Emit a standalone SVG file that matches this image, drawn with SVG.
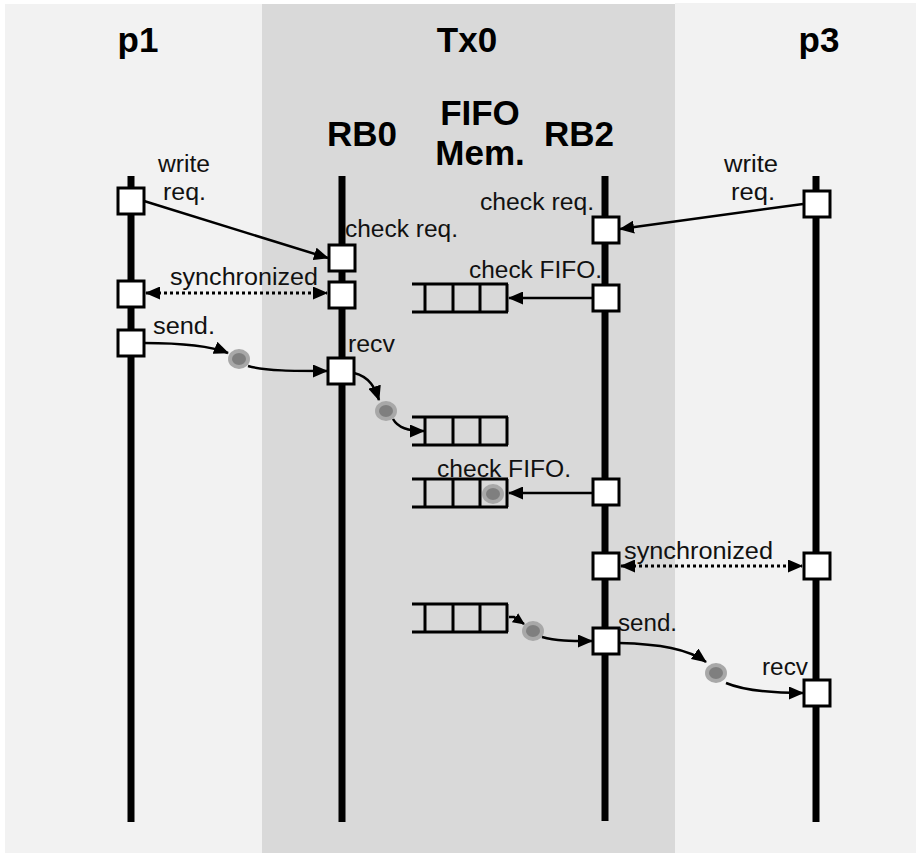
<svg xmlns="http://www.w3.org/2000/svg" width="916" height="853" viewBox="0 0 916 853">
<style>
.title{font-family:"Liberation Sans",Arial,sans-serif;font-weight:bold;font-size:35px;fill:#000;text-anchor:middle}
.lbl{font-family:"Liberation Sans",Arial,sans-serif;font-size:23px;fill:#111}
.life{stroke:#000;stroke-width:7}
.box{fill:#fff;stroke:#000;stroke-width:3}
.conn{fill:none;stroke:#000;stroke-width:2.5}
.dot{fill:none;stroke:#000;stroke-width:3;stroke-dasharray:3 3}
.fifo{fill:none;stroke:#000;stroke-width:3}
.tokO{fill:#a8a8a8}
.tokI{fill:#7f7f7f}
</style>
<defs>
<marker id="ah" markerUnits="userSpaceOnUse" markerWidth="15" markerHeight="13" refX="14" refY="6.5" orient="auto-start-reverse">
<path d="M0,0 L15,6.5 L0,13 z" fill="#000"/>
</marker>
<marker id="ahs" markerUnits="userSpaceOnUse" markerWidth="12" markerHeight="11" refX="11" refY="5.5" orient="auto">
<path d="M0,0 L12,5.5 L0,11 z" fill="#000"/>
</marker>
<g id="token"><ellipse class="tokO" cx="0" cy="0" rx="11" ry="10"/><ellipse class="tokI" cx="0" cy="0" rx="7" ry="6"/></g>
<g id="fifoShape">
<path class="fifo" d="M0,0 H96 M0,28 H96 M13,0 V28 M41,0 V28 M68,0 V28 M95,0 V28"/>
</g>
</defs>
<rect x="0" y="0" width="916" height="853" fill="#fff"/>
<rect x="5" y="4" width="257" height="849" fill="#f2f2f2"/>
<rect x="262" y="4" width="413" height="849" fill="#d9d9d9"/>
<rect x="675" y="3" width="241" height="850" fill="#f2f2f2"/>

<g id="titles">
<text class="title" x="138" y="52">p1</text>
<text class="title" x="467" y="52">Tx0</text>
<text class="title" x="819" y="52">p3</text>
<text class="title" x="362" y="146">RB0</text>
<text class="title" x="480" y="125">FIFO</text>
<text class="title" x="480" y="165">Mem.</text>
<text class="title" x="579" y="146">RB2</text>
</g>

<g id="p1">
<line class="life" x1="131" y1="176" x2="131" y2="822"/>
<rect class="box" x="118" y="188" width="26" height="26"/>
<rect class="box" x="118" y="281" width="26" height="26"/>
<rect class="box" x="118" y="330" width="26" height="26"/>
</g>
<g id="RB0">
<line class="life" x1="342" y1="176" x2="342" y2="822"/>
<rect class="box" x="329" y="245" width="26" height="26"/>
<rect class="box" x="329" y="282" width="26" height="26"/>
<rect class="box" x="328" y="358" width="26" height="26"/>
</g>
<g id="RB2">
<line class="life" x1="605" y1="176" x2="605" y2="821"/>
<rect class="box" x="593" y="217" width="26" height="26"/>
<rect class="box" x="593" y="285" width="26" height="26"/>
<rect class="box" x="593" y="479" width="26" height="26"/>
<rect class="box" x="593" y="553" width="26" height="26"/>
<rect class="box" x="593" y="628" width="26" height="26"/>
</g>
<g id="p3">
<line class="life" x1="816" y1="176" x2="816" y2="822"/>
<rect class="box" x="804" y="191" width="26" height="26"/>
<rect class="box" x="804" y="553" width="26" height="26"/>
<rect class="box" x="804" y="680" width="26" height="26"/>
</g>

<g id="fifo1"><use href="#fifoShape" x="412" y="284"/></g>
<g id="fifo2"><use href="#fifoShape" x="412" y="417"/></g>
<g id="fifo3"><use href="#fifoShape" x="412" y="479"/><use href="#token" x="493" y="494"/></g>
<g id="fifo4"><use href="#fifoShape" x="412" y="604"/></g>

<g id="tokens">
<use href="#token" x="239" y="359"/>
<use href="#token" x="386" y="411"/>
<use href="#token" x="533" y="631"/>
<use href="#token" x="716" y="673"/>
</g>

<g id="connectors">
<line class="conn" x1="144" y1="201" x2="328" y2="258" marker-end="url(#ah)"/>
<line class="dot" x1="146" y1="293" x2="327" y2="293" marker-start="url(#ah)" marker-end="url(#ah)"/>
<path class="conn" d="M144,343 C180,343 208,345 228,353" marker-end="url(#ah)"/>
<path class="conn" d="M248,366 C265,371 295,371 327,371" marker-end="url(#ah)"/>
<path class="conn" d="M354,373 C370,377 375,388 379,400" marker-end="url(#ah)"/>
<path class="conn" d="M393,419 C398,428 408,431 424,431" marker-end="url(#ah)"/>
<line class="conn" x1="803" y1="204" x2="620" y2="229" marker-end="url(#ah)"/>
<line class="conn" x1="592" y1="298" x2="509" y2="298" marker-end="url(#ah)"/>
<line class="conn" x1="592" y1="493" x2="509" y2="493" marker-end="url(#ah)"/>
<line class="dot" x1="621" y1="566" x2="802" y2="566" marker-start="url(#ah)" marker-end="url(#ah)"/>
<path class="conn" d="M509,617 L514,617 L524,624" marker-end="url(#ahs)"/>
<path class="conn" d="M542,637 C556,641 570,641 592,641" marker-end="url(#ah)"/>
<path class="conn" d="M619,643 C660,644 688,649 706,662" marker-end="url(#ah)"/>
<path class="conn" d="M726,683 C745,691 770,693 803,693" marker-end="url(#ah)"/>
</g>

<g id="labels">
<text class="lbl" x="158" y="172" textLength="52" lengthAdjust="spacingAndGlyphs">write</text>
<text class="lbl" x="163" y="200" textLength="43" lengthAdjust="spacingAndGlyphs">req.</text>
<text class="lbl" x="345" y="237" textLength="113" lengthAdjust="spacingAndGlyphs">check req.</text>
<text class="lbl" x="170" y="285" textLength="148" lengthAdjust="spacingAndGlyphs">synchronized</text>
<text class="lbl" x="153" y="334" textLength="62" lengthAdjust="spacingAndGlyphs">send.</text>
<text class="lbl" x="348" y="352" textLength="47" lengthAdjust="spacingAndGlyphs">recv</text>
<text class="lbl" x="480" y="210" textLength="114" lengthAdjust="spacingAndGlyphs">check req.</text>
<text class="lbl" x="469" y="278" textLength="133" lengthAdjust="spacingAndGlyphs">check FIFO.</text>
<text class="lbl" x="437" y="477" textLength="134" lengthAdjust="spacingAndGlyphs">check FIFO.</text>
<text class="lbl" x="624" y="559" textLength="149" lengthAdjust="spacingAndGlyphs">synchronized</text>
<text class="lbl" x="618" y="631" textLength="59" lengthAdjust="spacingAndGlyphs">send.</text>
<text class="lbl" x="762" y="675" textLength="46" lengthAdjust="spacingAndGlyphs">recv</text>
<text class="lbl" x="724" y="172" textLength="54" lengthAdjust="spacingAndGlyphs">write</text>
<text class="lbl" x="731" y="200" textLength="44" lengthAdjust="spacingAndGlyphs">req.</text>
</g>
</svg>
